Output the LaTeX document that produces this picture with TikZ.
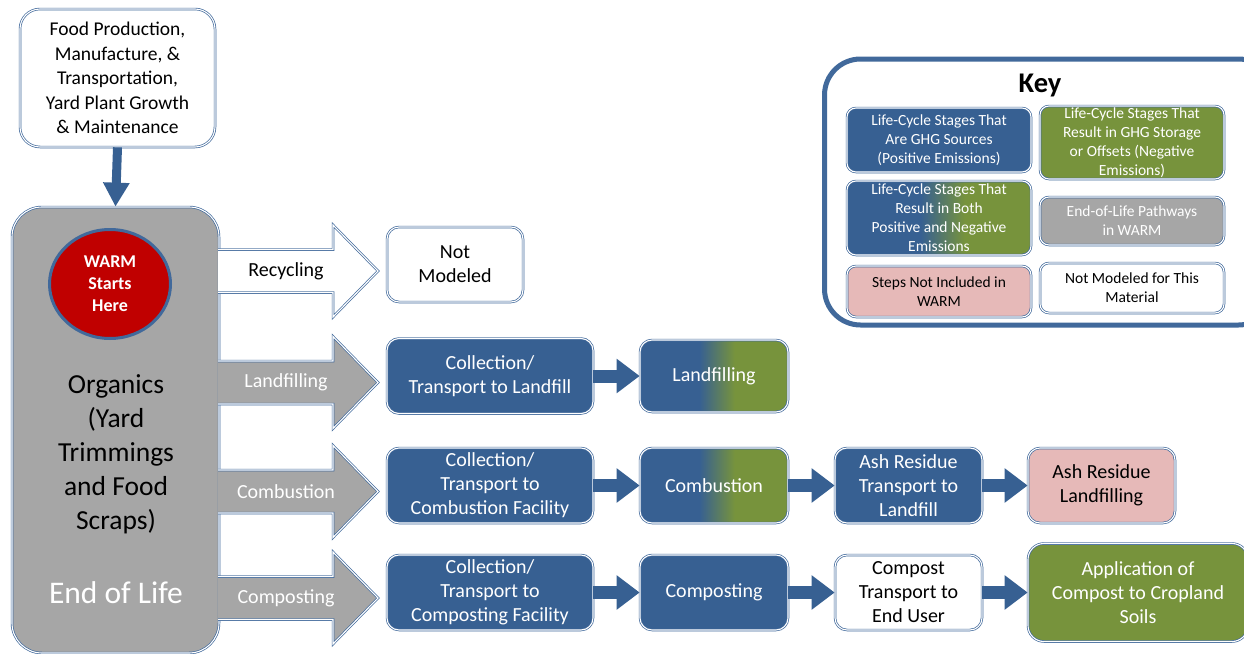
\documentclass[tikz,border=0pt]{standalone}
\usepackage{fontspec}
\setmainfont{Carlito}
\usetikzlibrary{arrows.meta,shapes.geometric}
\definecolor{wblue}{HTML}{376092}
\definecolor{wborder}{HTML}{41699B}
\definecolor{wgreen}{HTML}{77933C}
\definecolor{wpink}{HTML}{E6B9B8}
\definecolor{wgrey}{HTML}{A6A6A6}
\definecolor{wred}{HTML}{C00000}
\pgfdeclarehorizontalshading{bluegreen}{100bp}{color(0bp)=(wblue); color(45bp)=(wblue); color(57bp)=(wgreen); color(100bp)=(wgreen)}
\newcommand{\myfs}[2]{\fontsize{#1}{#2}\selectfont}
\newcommand{\blockarrow}[2]{%
  \fill[#2] (218,#1-21.5) -- (333,#1-21.5) -- (333,#1-46) -- (378,#1) -- (333,#1+46) -- (333,#1+21.5) -- (218,#1+21.5) -- cycle;
  \draw[barrow] (218,#1-21.5) -- (333,#1-21.5) -- (333,#1-46) -- (378,#1) -- (333,#1+46) -- (333,#1+21.5) -- (218,#1+21.5);
}
\tikzset{
  box/.style={draw=wborder, double=white, double distance=1.1pt, line width=0.7pt,
    rounded corners=12pt, align=center, inner sep=0pt, font=\myfs{20}{24}},
  bluebox/.style={box, fill=wblue, text=white},
  gradbox/.style={box, shading=bluegreen, text=white},
  greenbox/.style={box, fill=wgreen, text=white},
  pinkbox/.style={box, fill=wpink, text=black},
  whitebox/.style={box, fill=white, text=black},
  greybox/.style={box, fill=wgrey, text=white},
  keybox/.style={rounded corners=9pt, font=\myfs{15.5}{19}, minimum width=184pt},
  flow/.style={draw=wblue, line width=13pt, -{Triangle[length=23pt,width=33pt]}},
  barrow/.style={draw=wborder, double=white, double distance=1.1pt, line width=0.7pt},
  arrowlabel/.style={font=\myfs{20}{22}, inner sep=0pt},
}
\begin{document}
\begin{tikzpicture}[x=1pt,y=-1pt]
\useasboundingbox (0,0) rectangle (1244,653);
\clip (0,0) rectangle (1244,653);

% source box
\node[whitebox, minimum width=195pt, minimum height=138pt, rounded corners=20pt, font=\myfs{19.5}{24.5}] (src) at (117.5,78)
  {Food Production,\\Manufacture, \&\\Transportation,\\Yard Plant Growth\\\& Maintenance};

% main grey box
\node[greybox, minimum width=207pt, minimum height=446pt, rounded corners=30pt] (eol) at (115.5,430) {};
\node[ellipse, draw=wborder, line width=3pt, fill=wred, minimum width=121pt, minimum height=109pt,
  text=white, align=center, font=\bfseries\myfs{18}{22}, inner sep=0pt] (warm) at (110,284) {WARM\\Starts\\Here};
\node[align=center, font=\myfs{27.5}{34}, inner sep=0pt] (org) at (116,454) {Organics\\(Yard\\Trimmings\\and Food\\Scraps)};
\node[text=white, font=\myfs{31.5}{32}, inner sep=0pt] (eoltext) at (116,593) {End of Life};

\draw[flow, line width=9pt, -{Triangle[length=24pt,width=25pt]}] (src.south) -- (eol.north);

% block arrows
\blockarrow{271}{white}
\blockarrow{382.5}{wgrey}
\blockarrow{491.5}{wgrey}
\blockarrow{598}{wgrey}
\node[arrowlabel] (lrec) at (286,271) {Recycling};
\node[arrowlabel, text=white] (llan) at (286,382.5) {Landfilling};
\node[arrowlabel, text=white] (lcom) at (286,491.5) {Combustion};
\node[arrowlabel, text=white] (lcmp) at (286,598) {Composting};

% recycling
\node[whitebox, minimum width=136pt, minimum height=75pt] (nm) at (455,264.5) {Not\\Modeled};

% landfilling row
\node[bluebox, minimum width=206pt, minimum height=75pt] (c1) at (490,376) {Collection/\\Transport to Landfill};
\node[gradbox, minimum width=148pt, minimum height=72pt] (lf) at (714,376) {Landfilling};
\draw[flow] (c1.east) -- (lf.west);

% combustion row
\node[bluebox, minimum width=206pt, minimum height=75pt] (c2) at (490,485.5) {Collection/\\Transport to\\Combustion Facility};
\node[gradbox, minimum width=148pt, minimum height=75pt] (cb) at (714,485.5) {Combustion};
\node[bluebox, minimum width=147pt, minimum height=75pt] (at) at (908.5,485.5) {Ash Residue\\Transport to\\Landfill};
\node[pinkbox, minimum width=147pt, minimum height=75pt] (al) at (1101.5,485.5) {Ash Residue\\Landfilling};
\draw[flow] (c2.east) -- (cb.west);
\draw[flow] (cb.east) -- (at.west);
\draw[flow] (at.east) -- (al.west);

% composting row
\node[bluebox, minimum width=206pt, minimum height=75pt] (c3) at (490,592.5) {Collection/\\Transport to\\Composting Facility};
\node[bluebox, minimum width=148pt, minimum height=75pt] (cp) at (714,592.5) {Composting};
\node[whitebox, minimum width=147pt, minimum height=75pt] (ct) at (908.5,592.5) {Compost\\Transport to\\End User};
\node[greenbox, minimum width=220pt, minimum height=98pt, rounded corners=16pt] (ap) at (1138,592.5) {Application of\\Compost to Cropland\\Soils};
\draw[flow] (c3.east) -- (cp.west);
\draw[flow] (cp.east) -- (ct.west);
\draw[flow] (ct.east) -- (ap.west);

% key
\node[draw=wborder, line width=5pt, fill=white, rounded corners=36pt, minimum width=450pt, minimum height=266pt, inner sep=0pt] (key) at (1049.5,192) {};
\node[font=\bfseries\myfs{28.5}{30}, inner sep=0pt] (keyt) at (1040,85) {Key};
\node[bluebox, keybox, minimum height=64pt] (k1) at (939,140) {Life-Cycle Stages That\\Are GHG Sources\\(Positive Emissions)};
\node[greenbox, keybox, minimum height=73pt] (k2) at (1132,142.5) {Life-Cycle Stages That\\Result in GHG Storage\\or Offsets (Negative\\Emissions)};
\node[gradbox, keybox, minimum height=74pt] (k3) at (939,218) {Life-Cycle Stages That\\Result in Both\\Positive and Negative\\Emissions};
\node[greybox, keybox, minimum height=48pt] (k4) at (1132,221) {End-of-Life Pathways\\in WARM};
\node[pinkbox, keybox, minimum height=51pt] (k5) at (939,291.5) {Steps Not Included in\\WARM};
\node[whitebox, keybox, minimum height=50pt] (k6) at (1132,288) {Not Modeled for This\\Material};
\end{tikzpicture}
\end{document}
